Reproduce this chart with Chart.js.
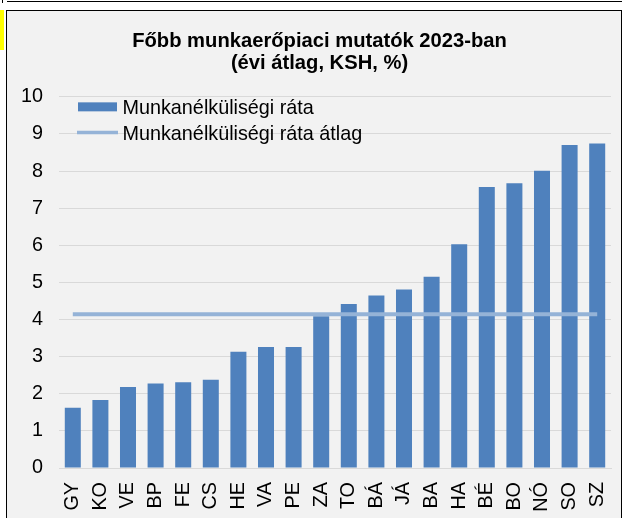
<!DOCTYPE html>
<html>
<head>
<meta charset="utf-8">
<script src="https://cdn.jsdelivr.net/npm/chart.js@4.4.1/dist/chart.umd.min.js"></script>
<style>
  body { margin: 0; background: #fff; width: 622px; height: 518px; overflow: hidden; position: relative; }
  #vonal-fent { position: absolute; left: 7px; top: 1px; width: 615px; height: 1px; background: #000; }
  #vonal-kicsi { position: absolute; left: 2px; top: 0; width: 1px; height: 3px; background: #000; }
  #sarga { position: absolute; left: 0; top: 10px; width: 4px; height: 40px; background: #ffff00; }
  #keret { position: absolute; left: 6px; top: 10px; width: 614px; height: 520px; border: 1px solid #000; border-bottom: none; background: #f2f2f2; overflow: hidden; }
  #grafikon { position: absolute; left: 0; top: 0; }
</style>
</head>
<body>
<div id="vonal-fent"></div>
<div id="vonal-kicsi"></div>
<div id="sarga"></div>
<div id="keret"><canvas id="grafikon" width="626" height="507"></canvas></div>
<script>
// Adatok (megyék rövidítése, munkanélküliségi ráta %)
const megyek = ["GY", "KO", "VE", "BP", "FE", "CS", "HE", "VA", "PE", "ZA",
                "TO", "BÁ", "JÁ", "BA", "HA", "BÉ", "BO", "NÓ", "SO", "SZ"];
const rata = [1.62, 1.83, 2.18, 2.28, 2.31, 2.38, 3.13, 3.26, 3.26, 4.09,
              4.42, 4.65, 4.81, 5.15, 6.03, 7.57, 7.67, 8.01, 8.70, 8.74];
const rataAtlag = [4.14, 4.14, 4.14, 4.14, 4.14, 4.14, 4.14, 4.14, 4.14, 4.14,
                   4.14, 4.14, 4.14, 4.14, 4.14, 4.14, 4.14, 4.14, 4.14, 4.14];
const cim = ["Főbb munkaerőpiaci mutatók 2023-ban", "(évi átlag, KSH, %)"];

const oszlopSzin = "#4f81bd";
const atlagSzin = "#95b3d7";
const betu = '"Liberation Sans", Arial, sans-serif';
const betuMeret = 19.8;

// Jelmagyarázat a rajzterületen belül, bal felül
const jelmagyarazat = {
  id: "jelmagyarazat",
  afterLayout(chart) {
    // a cím kicsit jobbra van a rajzterülethez képest
    chart.titleBlock.left += 4;
    chart.titleBlock.right += 4;
  },
  afterDatasetsDraw(chart) {
    const ctx = chart.ctx;
    const { left, top } = chart.chartArea;
    const [oszlop, vonal] = [chart.data.datasets[1], chart.data.datasets[0]];
    ctx.save();
    ctx.font = betuMeret + "px " + betu;
    ctx.textBaseline = "alphabetic";
    ctx.fillStyle = oszlop.backgroundColor;
    ctx.fillRect(left + 19, top + 5.5, 39, 9);
    ctx.fillStyle = "#000";
    ctx.fillText(oszlop.label, left + 63.5, top + 17);
    ctx.strokeStyle = vonal.borderColor;
    ctx.lineWidth = 3.5;
    ctx.beginPath();
    ctx.moveTo(left + 18, top + 35.7);
    ctx.lineTo(left + 59, top + 35.7);
    ctx.stroke();
    ctx.fillText(vonal.label, left + 63.5, top + 43);
    ctx.restore();
  }
};

new Chart(document.getElementById("grafikon"), {
  type: "bar",
  data: {
    labels: megyek,
    datasets: [
      {
        type: "line",
        label: "Munkanélküliségi ráta átlag",
        data: rataAtlag,
        borderColor: atlagSzin,
        borderWidth: 4,
        pointRadius: 0,
        fill: false,
        order: 0
      },
      {
        label: "Munkanélküliségi ráta",
        data: rata,
        backgroundColor: oszlopSzin,
        barPercentage: 0.58,
        categoryPercentage: 1,
        order: 1
      }
    ]
  },
  options: {
    responsive: false,
    animation: false,
    layout: { padding: { left: 13, right: 22, top: 0, bottom: 0 } },
    plugins: {
      legend: { display: false },
      tooltip: { enabled: false },
      title: {
        display: true,
        text: cim,
        color: "#000",
        font: { family: betu, size: 20.2, weight: "bold", lineHeight: 1.11 },
        padding: { top: 19, bottom: 22 }
      }
    },
    scales: {
      x: {
        grid: { display: false },
        border: { display: true, color: "#d9d9d9", width: 1 },
        ticks: {
          color: "#000",
          font: { family: betu, size: betuMeret },
          minRotation: 90,
          maxRotation: 90,
          autoSkip: false,
          padding: 6
        },
        afterFit: (scale) => {
          scale.height = 50;
          scale.paddingLeft = 0;
          scale.paddingRight = 0;
        }
      },
      y: {
        min: 0,
        max: 10,
        grid: { color: "#d9d9d9", lineWidth: 1, drawTicks: false },
        border: { display: false },
        ticks: {
          stepSize: 1,
          color: "#000",
          font: { family: betu, size: betuMeret },
          padding: 16
        },
        // Chart.js a tengely szélességébe kétszer számolja a paddinget
        afterFit: (scale) => { scale.width = 39; }
      }
    }
  },
  plugins: [jelmagyarazat]
});
</script>
</body>
</html>
